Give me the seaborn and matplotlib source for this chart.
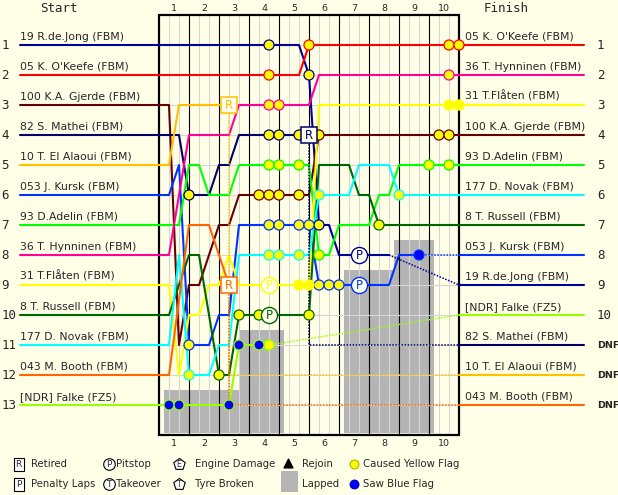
import numpy as np
import pandas as pd
import matplotlib
matplotlib.use("Agg")
import matplotlib.pyplot as plt
import seaborn as sns
from matplotlib.patches import Rectangle, RegularPolygon

sns.set_theme(style="white")
plt.rcParams['font.family'] = ['DejaVu Sans']

BG = '#FFFFE8'

# ---------------- data ----------------
drivers = ["19 R.de.Jong (FBM)", "05 K. O'Keefe (FBM)", "100 K.A. Gjerde (FBM)",
           "82 S. Mathei (FBM)", "10 T. El Alaoui (FBM)", "053 J. Kursk (FBM)",
           "93 D.Adelin (FBM)", "36 T. Hynninen (FBM)", "31 T.Flåten (FBM)",
           "8 T. Russell (FBM)", "177 D. Novak (FBM)", "043 M. Booth (FBM)",
           "[NDR] Falke (FZ5)"]
colors = ['#000099', '#FF0000', '#660000', '#000066', '#FFC000', '#0033FF',
          '#00FF00', '#FF0099', '#FFFF00', '#006600', '#00FFFF', '#FF6600',
          '#99FF00']
start_pos = [1, 2, 3, 4, 5, 6, 7, 8, 9, 10, 11, 12, 13]
finish_pos = [9, 1, 4, 11, 12, 8, 5, 2, 3, 7, 6, 13, 10]
finish_text = ["9", "1", "4", "DNF", "DNF", "8", "5", "2", "3", "7", "6", "DNF", "10"]
end_mode = ['lapped', 'finish', 'finish', 'retired', 'retired', 'lapped', 'finish',
            'finish', 'finish', 'finish', 'finish', 'retired', 'lapped']

laps = [1, 2, 3, 4, 5, 6, 7, 8, 9, 10]
sectors_per_lap = 3

# running position at every sector boundary (0 = start line)
pos_dejong = [1, 1, 1, 1, 1, 1, 1, 1, 1, 1, 1, 1, 1, 1, 1, 2, 7, 7, 8, 8, 8, 8, 8, 8]
pos_okeefe = [2, 2, 2, 2, 2, 2, 2, 2, 2, 2, 2, 2, 2, 2, 2, 1, 1, 1, 1, 1, 1, 1, 1, 1,
              1, 1, 1, 1, 1, 1, 1]
pos_gjerde = [3, 3, 11, 9, 9, 8, 7, 7, 6, 6, 6, 6, 6, 6, 6, 6, 4, 4, 4, 4, 4, 4, 4, 4,
              4, 4, 4, 4, 4, 4, 4]
pos_mathei = [4, 4, 4, 6, 6, 6, 5, 5, 4, 4, 4, 4, 4, 4, 4, 4]
pos_elalaoui = [5, 5, 3, 3, 3, 3, 3, 3]
pos_kursk = [6, 6, 5, 11, 11, 11, 10, 10, 7, 7, 7, 7, 7, 7, 7, 7, 9, 9, 9, 9, 9, 9, 9,
             9, 8, 8, 8]
pos_adelin = [7, 7, 7, 5, 5, 6, 6, 6, 5, 5, 5, 5, 5, 5, 5, 5, 8, 8, 7, 7, 7, 7, 6, 6,
              5, 5, 5, 5, 5, 5, 5]
pos_hynninen = [8, 8, 6, 4, 4, 4, 4, 4, 3, 3, 3, 3, 3, 3, 3, 3, 2, 2, 2, 2, 2, 2, 2, 2,
                2, 2, 2, 2, 2, 2, 2]
pos_flaten = [9, 9, 12, 10, 10, 9, 9, 8, 9, 9, 9, 9, 9, 9, 9, 9, 3, 3, 3, 3, 3, 3, 3, 3,
              3, 3, 3, 3, 3, 3, 3]
pos_russell = [10, 10, 9, 8, 8, 10, 12, 12, 10, 10, 10, 10, 10, 10, 10, 10, 5, 5, 5, 5,
               6, 6, 7, 7, 7, 7, 7, 7, 7, 7, 7]
pos_novak = [11, 11, 8, 12, 12, 12, 11, 11, 8, 8, 8, 8, 8, 8, 8, 8, 6, 6, 6, 6, 5, 5, 5,
             5, 6, 6, 6, 6, 6, 6, 6]
pos_booth = [12, 12, 9.5, 7, 7, 7, 8, 9]
pos_falke = [13, 13, 13, 13, 13, 13, 13, 13, 11, 11, 11, 11]

trajectories = [pos_dejong, pos_okeefe, pos_gjerde, pos_mathei, pos_elalaoui, pos_kursk,
                pos_adelin, pos_hynninen, pos_flaten, pos_russell, pos_novak, pos_booth,
                pos_falke]

# events: driver index -> sector indices
yellow_flags = {0: [11, 15, 16], 1: [11, 15, 29, 30], 2: [10, 11, 12, 14, 16, 28, 29],
                3: [3, 11, 12, 14], 5: [3, 11, 12, 14, 15, 16, 17, 18],
                6: [11, 12, 14, 16, 27, 29], 7: [11, 12, 29], 8: [14, 15, 29, 30],
                9: [6, 8, 10, 15, 22], 10: [3, 11, 12, 14, 16, 24], 12: [11]}
blue_flags = {12: [1, 2, 7, 8, 10], 5: [26]}
pitstops = {8: [11], 9: [11], 0: [20], 5: [20]}

# lapped shading: sector from, sector to, top position
lapped_from = [0.5, 8.0, 18.5, 23.5]
lapped_to = [8.0, 12.5, 23.5, 27.5]
lapped_top = [12.5, 10.5, 8.5, 7.5]


# ---------------- helpers (pixel -> data) ----------------
def X(px):
    return (px - 159) / 10.0


def Y(py):
    return (py - 45) / 30.0 + 1


n_sec = len(laps) * sectors_per_lap
palette = dict(zip(drivers, colors))

fig = plt.figure(figsize=(6.18, 4.95), dpi=100)
fig.patch.set_facecolor(BG)
ax = fig.add_axes([0, 0, 1, 1])
ax.set_facecolor(BG)
ax.set_xlim(X(0), X(618))
ax.set_ylim(Y(495), Y(0))
ax.axis('off')

top, bottom = Y(15), Y(435)

# lapped areas
for x0, x1, tp in zip(lapped_from, lapped_to, lapped_top):
    ax.bar(x0, bottom - 0.07 - tp, width=x1 - x0, bottom=tp, align='edge',
           color='#B4B4B4', edgecolor='none', zorder=1)

# grid
for k in range(1, n_sec):
    c = 'black' if k % sectors_per_lap == 0 else '#D6D6D6'
    ax.plot([k, k], [top, bottom], color=c, lw=0.8, zorder=2)
for p in start_pos:
    ax.plot([0, n_sec], [p, p], color='#D6D6D6', lw=0.8, zorder=2)
ax.add_patch(Rectangle((0, top), n_sec, bottom - top, fill=False, ec='black',
                       lw=1.6, zorder=2.5))

# lap numbers
for i, lap in enumerate(laps):
    cx = i * sectors_per_lap + sectors_per_lap / 2
    ax.text(cx, Y(8.5), str(lap), ha='center', va='center', fontsize=6.8)
    ax.text(cx, Y(444), str(lap), ha='center', va='center', fontsize=6.8)

# main solid lines
rows = []
for d, tr, sp, fp, mode in zip(drivers, trajectories, start_pos, finish_pos, end_mode):
    rows.append((d, X(20), sp))
    for k, p in enumerate(tr):
        rows.append((d, k, p))
    if mode == 'finish':
        rows.append((d, X(584), fp))
df = pd.DataFrame(rows, columns=['driver', 'x', 'y'])
sns.lineplot(data=df, x='x', y='y', hue='driver', palette=palette, estimator=None,
             sort=False, legend=False, lw=1.5, ax=ax, zorder=3)

# dotted continuations and right-hand stubs
for d, tr, fp, mode, c in zip(drivers, trajectories, finish_pos, end_mode, colors):
    kl = len(tr) - 1
    if mode == 'lapped':
        ax.plot([kl, n_sec], [tr[-1], fp], color=c, lw=1.1, ls=(0, (1, 1)), zorder=3)
    elif mode == 'retired':
        ax.plot([kl, kl, n_sec], [tr[-1], fp, fp], color=c, lw=1.1, ls=(0, (1, 1)),
                zorder=3)
    if mode != 'finish':
        ax.plot([n_sec, X(584)], [fp, fp], color=c, lw=1.5, zorder=3)

# yellow / blue flags
for store, face in ((yellow_flags, '#FFFF00'), (blue_flags, '#0000FF')):
    xs, ys, ecs = [], [], []
    for di, ks in store.items():
        for k in ks:
            xs.append(k)
            ys.append(trajectories[di][k])
            ecs.append(colors[di])
    ax.scatter(xs, ys, s=52, c=face, edgecolors=ecs, linewidths=0.9, zorder=4)

# pitstops
for di, ks in pitstops.items():
    for k in ks:
        p = trajectories[di][k]
        ax.scatter([k], [p], s=135, c='#FFFFF0', edgecolors=colors[di],
                   linewidths=1.0, zorder=5)
        ax.text(k, p + 0.02, 'P', ha='center', va='center', fontsize=8.5,
                color=colors[di], zorder=6)

# retirements
for di, (tr, mode) in enumerate(zip(trajectories, end_mode)):
    if mode == 'retired':
        k = len(tr) - 1
        p = tr[-1]
        ax.add_patch(Rectangle((k - 0.8, p - 0.27), 1.6, 0.54, fc='#FFFFF0',
                               ec=colors[di], lw=1.1, zorder=5))
        ax.text(k, p + 0.02, 'R', ha='center', va='center', fontsize=8.5,
                color=colors[di], zorder=6)

# driver labels and positions
mono = 'DejaVu Sans Mono'
for d, sp, fp, ft in zip(drivers, start_pos, finish_pos, finish_text):
    ax.text(X(20), sp - 0.11, d, ha='left', va='bottom', fontsize=7.8)
    ax.text(X(1.5), sp + 0.03, str(sp), ha='left', va='center', fontsize=9,
            family=mono)
for d, fp, ft in sorted(zip(drivers, finish_pos, finish_text), key=lambda t: t[1]):
    ax.text(X(465), fp - 0.11, d, ha='left', va='bottom', fontsize=7.8)
    if ft == 'DNF':
        ax.text(X(597), fp + 0.03, ft, ha='left', va='center', fontsize=6.8,
                fontweight='bold')
    else:
        ax.text(X(597), fp + 0.03, ft, ha='left', va='center', fontsize=9, family=mono)

ax.text(X(40), Y(9), 'Start', ha='left', va='center', fontsize=9, family=mono)
ax.text(X(484), Y(9), 'Finish', ha='left', va='center', fontsize=9, family=mono)

# ---------------- legend ----------------
r1, r2 = Y(464), Y(484)
lfs = 7.3
for yy, letter, label in ((r1, 'R', 'Retired'), (r2, 'P', 'Penalty Laps')):
    ax.add_patch(Rectangle((X(13.5), yy - 6.5 / 30), 1.0, 13 / 30, fc='white',
                           ec='black', lw=0.8))
    ax.text(X(18.5), yy + 0.02, letter, ha='center', va='center', fontsize=6.5)
    ax.text(X(31), yy, label, ha='left', va='center', fontsize=lfs)
for yy, letter, label in ((r1, 'P', 'Pitstop'), (r2, 'T', 'Takeover')):
    ax.scatter([X(109)], [yy], s=70, c='white', edgecolors='black', linewidths=0.8)
    ax.text(X(109), yy + 0.02, letter, ha='center', va='center', fontsize=6.5)
    ax.text(X(116), yy, label, ha='left', va='center', fontsize=lfs)
for yy, letter, label in ((r1, 'E', 'Engine Damage'), (r2, 'T', 'Tyre Broken')):
    ax.scatter([X(179)], [yy], s=75, marker='p', c='white', edgecolors='black',
               linewidths=0.8)
    ax.text(X(179), yy + 0.03, letter, ha='center', va='center', fontsize=5.5)
    ax.text(X(195), yy, label, ha='left', va='center', fontsize=lfs)
ax.scatter([X(288)], [Y(463)], s=40, marker='^', c='black')
ax.text(X(302), r1, 'Rejoin', ha='left', va='center', fontsize=lfs)
ax.add_patch(Rectangle((X(281), Y(471)), 1.7, 21 / 30, fc='#B4B4B4', ec='none'))
ax.text(X(302), r2, 'Lapped', ha='left', va='center', fontsize=lfs)
ax.scatter([X(354)], [r1], s=40, c='#FFFF00', edgecolors='#B0B000', linewidths=0.8)
ax.text(X(363), r1, 'Caused Yellow Flag', ha='left', va='center', fontsize=lfs)
ax.scatter([X(354)], [r2], s=40, c='#0000FF', edgecolors='#0000AA', linewidths=0.8)
ax.text(X(363), r2, 'Saw Blue Flag', ha='left', va='center', fontsize=lfs)

fig.savefig('out.png', dpi=100, facecolor=BG)
